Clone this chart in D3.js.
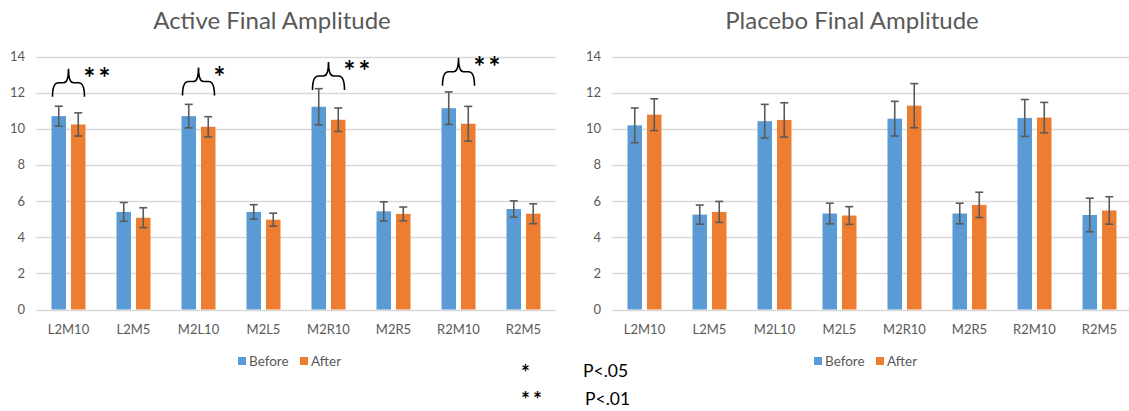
<!DOCTYPE html>
<html>
<head>
<meta charset="utf-8">
<script src="https://cdn.jsdelivr.net/npm/d3@7/dist/d3.min.js"></script>
<style>
  body { margin: 0; background: #fff; }
  svg { display: block; font-family: Lato, "Open Sans", sans-serif; }
</style>
</head>
<body>
<div id="mydiv"></div>
<script>
// data
const categories = ["L2M10", "L2M5", "M2L10", "M2L5", "M2R10", "M2R5", "R2M10", "R2M5"];
const series = ["Before", "After"];
const yTicks = [0, 2, 4, 6, 8, 10, 12, 14];

const activeBefore    = [10.70, 5.40, 10.70, 5.40, 11.22, 5.43, 11.14, 5.56];
const activeBeforeErr = [0.55, 0.52, 0.65, 0.40, 1.00, 0.53, 0.90, 0.45];
const activeAfter     = [10.24, 5.08, 10.11, 4.97, 10.50, 5.29, 10.28, 5.30];
const activeAfterErr  = [0.64, 0.55, 0.56, 0.36, 0.65, 0.38, 0.96, 0.55];

const placeboBefore    = [10.19, 5.25, 10.42, 5.31, 10.56, 5.31, 10.60, 5.23];
const placeboBeforeErr = [0.96, 0.53, 0.93, 0.57, 0.96, 0.57, 1.02, 0.93];
const placeboAfter     = [10.78, 5.40, 10.49, 5.20, 11.28, 5.79, 10.62, 5.48];
const placeboAfterErr  = [0.88, 0.58, 0.95, 0.49, 1.22, 0.70, 0.84, 0.76];

// significance braces on the active chart (brace foot level, in amplitude units)
const sigCats   = ["L2M10", "M2L10", "M2R10", "R2M10"];
const sigMarks  = ["**", "*", "**", "**"];
const sigLevels = [11.77, 11.84, 12.15, 12.38];

const keyMarks  = ["*", "**"];
const keyLabels = ["P<.05", "P<.01"];

const colors = { Before: "#5b9bd5", After: "#ed7d31" };
const textGray = "#595959";

const W = 1129, H = 411;
const svg = d3.select("#mydiv").append("svg")
  .attr("width", W).attr("height", H);

function drawChart(opts) {
  const g = svg.append("g");

  const y = d3.scaleLinear().domain([0, 14]).range([309.5, 56.5]);
  const x = d3.scaleBand().domain(categories).range([opts.x0, opts.x1]);
  const xs = d3.scaleBand().domain(series).range([-17, 17]).paddingInner(0.256);

  // clip the gridlines to the window
  g.selectAll(".grid")
    .data(yTicks).enter()
    .append("line")
    .attr("x1", opts.x0)
    .attr("x2", Math.min(opts.x1, W))
    .attr("y1", d => Math.round(y(d)) + 0.5)
    .attr("y2", d => Math.round(y(d)) + 0.5)
    .style("stroke", "#d9d9d9")
    .style("stroke-width", 1.3);

  // y labels
  g.selectAll(".ylab")
    .data(yTicks).enter()
    .append("text")
    .attr("x", opts.x0 - 11)
    .attr("y", d => y(d) + 4.5)
    .attr("text-anchor", "end")
    .style("fill", textGray)
    .style("font-size", "13px")
    .text(d => d);

  // x labels
  g.selectAll(".xlab")
    .data(categories).enter()
    .append("text")
    .attr("x", d => x(d) + x.bandwidth() / 2)
    .attr("y", 334)
    .attr("text-anchor", "middle")
    .style("fill", textGray)
    .style("font-size", "13px")
    .text(d => d);

  const rows = categories.map((c, i) => ({
    cat: c,
    vals: [
      { s: "Before", v: opts.before[i], e: opts.beforeErr[i] },
      { s: "After", v: opts.after[i], e: opts.afterErr[i] }
    ]
  }));

  const grp = g.selectAll(".cat")
    .data(rows).enter()
    .append("g")
    .attr("transform", d => `translate(${x(d.cat) + x.bandwidth() / 2},0)`);

  grp.selectAll("rect")
    .data(d => d.vals).enter()
    .append("rect")
    .attr("x", d => xs(d.s))
    .attr("width", xs.bandwidth())
    .attr("y", d => y(d.v))
    .attr("height", d => y(0) - y(d.v))
    .style("fill", d => colors[d.s]);

  // error bars
  const eb = grp.selectAll(".err")
    .data(d => d.vals).enter()
    .append("g")
    .attr("transform", d => `translate(${xs(d.s) + xs.bandwidth() / 2},0)`)
    .style("stroke", "#5a5a5a")
    .style("stroke-width", 1.6);

  eb.append("line")
    .attr("x1", 0).attr("x2", 0)
    .attr("y1", d => y(d.v + d.e))
    .attr("y2", d => y(d.v - d.e));
  eb.append("line")
    .attr("x1", -4).attr("x2", 4)
    .attr("y1", d => y(d.v + d.e))
    .attr("y2", d => y(d.v + d.e));
  eb.append("line")
    .attr("x1", -4).attr("x2", 4)
    .attr("y1", d => y(d.v - d.e))
    .attr("y2", d => y(d.v - d.e));

  // title
  g.append("text")
    .attr("x", opts.titleX)
    .attr("y", 29)
    .attr("text-anchor", "middle")
    .style("fill", textGray)
    .style("font-size", "24px")
    .text(opts.title);

  // legend
  const lx = (opts.x0 + opts.x1) / 2 - 58;
  const leg = g.append("g").attr("transform", `translate(${lx},357)`);
  const items = leg.selectAll("g")
    .data(series).enter()
    .append("g")
    .attr("transform", (d, i) => `translate(${i * 62},0)`);
  items.append("rect")
    .attr("width", 8).attr("height", 8)
    .style("fill", d => colors[d]);
  items.append("text")
    .attr("x", 11).attr("y", 8.5)
    .style("fill", textGray)
    .style("font-size", "13.5px")
    .text(d => d);

  return { g, x, y };
}

const active = drawChart({
  x0: 36, x1: 556, title: "Active Final Amplitude", titleX: 272,
  before: activeBefore, beforeErr: activeBeforeErr,
  after: activeAfter, afterErr: activeAfterErr
});

drawChart({
  x0: 612, x1: 1132, title: "Placebo Final Amplitude", titleX: 852,
  before: placeboBefore, beforeErr: placeboBeforeErr,
  after: placeboAfter, afterErr: placeboAfterErr
});

// braces + stars
sigCats.forEach((c, i) => {
  const xc = active.x(c) + active.x.bandwidth() / 2;
  const yb = active.y(sigLevels[i]);
  const yt = yb - 28;
  const ym = yb - 14;
  const x0 = xc - 16, x1 = xc + 16;
  const p = d3.path();
  p.moveTo(x0, yb);
  p.quadraticCurveTo(x0, ym, x0 + 6, ym);
  p.lineTo(xc - 5, ym);
  p.quadraticCurveTo(xc, ym, xc, yt);
  p.quadraticCurveTo(xc, ym, xc + 5, ym);
  p.lineTo(x1 - 6, ym);
  p.quadraticCurveTo(x1, ym, x1, yb);
  active.g.append("path")
    .attr("d", p.toString())
    .style("fill", "none")
    .style("stroke", "#000")
    .style("stroke-width", 1.6);
  active.g.append("text")
    .attr("x", x1 - 1)
    .attr("y", yt + 19)
    .style("font-size", "28px")
    .style("font-weight", "bold")
    .style("letter-spacing", "3px")
    .style("fill", "#000")
    .text(sigMarks[i]);
});

// significance key
const key = svg.append("g");
key.selectAll(".km")
  .data(keyMarks).enter()
  .append("text")
  .attr("x", 521)
  .attr("y", (d, i) => 380 + i * 26.5)
  .style("font-size", "21px")
  .style("font-weight", "bold")
  .style("letter-spacing", "3px")
  .style("fill", "#000")
  .text(d => d);
key.selectAll(".kl")
  .data(keyLabels).enter()
  .append("text")
  .attr("x", (d, i) => 583 + i * 2)
  .attr("y", (d, i) => 377 + i * 28)
  .style("font-size", "17.5px")
  .style("fill", "#000")
  .text(d => d);
</script>
</body>
</html>
